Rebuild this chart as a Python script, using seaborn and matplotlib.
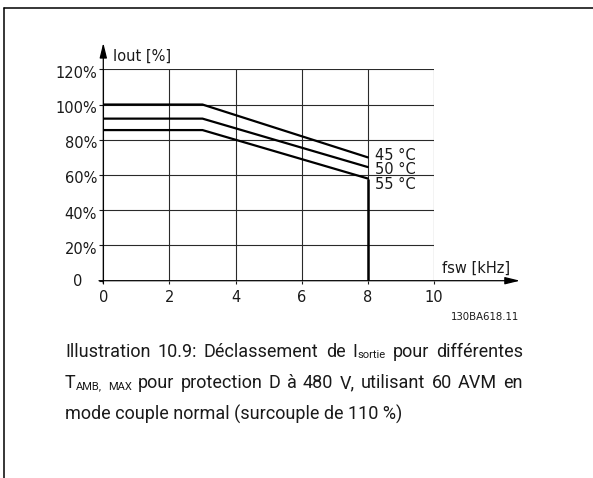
import re

import matplotlib
matplotlib.use("Agg")
import matplotlib.pyplot as plt
import matplotlib.transforms as mtransforms
from matplotlib.lines import Line2D
import numpy as np
import pandas as pd
import seaborn as sns

# Output current derating vs switching frequency, per ambient temperature
freq_khz = [0, 3, 8]
iout_45 = [100, 100, 70]
iout_50 = [92, 92, 64.5]
iout_55 = [85.5, 85.5, 58]
temp_labels = ["45 °C", "50 °C", "55 °C"]
f_max_khz = 8

x_ticks = [0, 2, 4, 6, 8, 10]
x_tick_labels = ["0", "2", "4", "6", "8", "10"]
y_ticks = [0, 20, 40, 60, 80, 100, 120]
y_tick_labels = ["0", "20%", "40%", "60%", "80%", "100%", "120%"]

y_axis_label = "Iout [%]"
x_axis_label = "fsw [kHz]"
drawing_ref = "130BA618.11"

# "_{...}" marks reduced-size (subscript) text
caption_lines = [
    "Illustration 10.9: Déclassement de I_{sortie} pour différentes",
    "T_{AMB,} _{MAX} pour protection D à 480 V, utilisant 60 AVM en",
    "mode couple normal (surcouple de 110 %)",
]

W, H = 593, 478
DPI = 100
INK = "#1a1a1a"
GRID = "#2a2a2a"
CHART_FS = 10.5

sns.set_theme(style="white")
plt.rcParams["font.family"] = ["DejaVu Sans"]

fig = plt.figure(figsize=(W / DPI, H / DPI), dpi=DPI)
fig.patch.set_facecolor("white")


def fx(px):
    return px / W


def fy(py):
    return 1 - py / H


# plotting area spans 0..10 kHz and 0..120 %
ax = fig.add_axes([fx(103.3), fy(280.7), fx(434.0) - fx(103.3), fy(69.3) - fy(280.7)])
ax.set_xlim(x_ticks[0], x_ticks[-1])
ax.set_ylim(y_ticks[0], y_ticks[-1])
ax.set_facecolor("none")
for s in ax.spines.values():
    s.set_visible(False)

# grid
ax.vlines(x_ticks, y_ticks[0], y_ticks[-1], color=GRID, lw=0.8, zorder=1)
ax.hlines(y_ticks[1:], x_ticks[0], x_ticks[-1], color=GRID, lw=0.8, zorder=1)

# derating curves
df = pd.DataFrame({
    "fsw": freq_khz * 3,
    "iout": iout_45 + iout_50 + iout_55,
    "temp": np.repeat(temp_labels, len(freq_khz)),
})
sns.lineplot(data=df, x="fsw", y="iout", hue="temp", hue_order=temp_labels,
             palette=["black"] * 3, linewidth=1.6, legend=False, sort=False,
             estimator=None, ax=ax, zorder=3)
ax.vlines(f_max_khz, 0, iout_55[-1], color="black", lw=1.8, zorder=3)
ax.set_xlabel("")
ax.set_ylabel("")

# axis arrows
arrow_kw = dict(arrowstyle="-|>,head_length=0.9,head_width=0.22", color="black",
                lw=0.9, shrinkA=0, shrinkB=0, mutation_scale=10)
ax.annotate("", xy=(12.6, 0), xytext=(-0.13, 0), arrowprops=arrow_kw,
            annotation_clip=False, zorder=4)
ax.annotate("", xy=(0, 135), xytext=(0, -1.5), arrowprops=arrow_kw,
            annotation_clip=False, zorder=4)

# ticks
ax.set_xticks(x_ticks, x_tick_labels)
ax.set_yticks(y_ticks, [""] * len(y_ticks))
ax.tick_params(axis="x", bottom=True, length=2.2, width=0.8, direction="out",
               pad=4.2, labelsize=CHART_FS, colors=INK, labelcolor=INK)
ax.tick_params(axis="y", left=True, length=2.9, width=0.8, direction="out",
               colors=INK)
for v, lab in zip(y_ticks, y_tick_labels):
    dx = -20.6 if lab == "0" else -6.3
    dy = -5.3 if v == 0 else -8.3
    tr = mtransforms.offset_copy(ax.transData, fig, x=dx, y=dy, units="dots")
    ax.text(0, v, lab, transform=tr, ha="right", va="baseline",
            fontsize=CHART_FS, color=INK, clip_on=False)

# end-of-curve temperature labels
label_drop = [2.3, 6.6, 10.2]
for lab, series, drop in zip(temp_labels, [iout_45, iout_50, iout_55], label_drop):
    tr = mtransforms.offset_copy(ax.transData, fig, x=6.7, y=-drop, units="dots")
    ax.text(freq_khz[-1], series[-1], lab, transform=tr, ha="left", va="baseline",
            fontsize=CHART_FS, color=INK, clip_on=False)

fig.text(fx(113.3), fy(60.5), y_axis_label, ha="left", va="baseline",
         fontsize=CHART_FS, color=INK)
fig.text(fx(441.7), fy(273.2), x_axis_label, ha="left", va="baseline",
         fontsize=CHART_FS, color=INK)
fig.text(fx(485), fy(316.7), drawing_ref, ha="center", va="center",
         fontsize=7.3, color=INK)

# page frame
fig.add_artist(Line2D([fx(4), 1], [fy(8), fy(8)], transform=fig.transFigure,
                      color="black", lw=1.1))
fig.add_artist(Line2D([fx(4), fx(4)], [fy(8), 0], transform=fig.transFigure,
                      color="black", lw=1.1))

# justified caption
CAP_FONT = ["Roboto", "DejaVu Sans"]
SUB_RATIO = 0.62
SUB_DROP = 1.5
cap_left, cap_right = 65.0, 522.7
cap_baselines = [356.8, 388.0, 419.5]
last_line_width = 337.0

renderer = fig.canvas.get_renderer()


def parse_word(word):
    segs = []
    for m in re.finditer(r"_\{([^}]*)\}|([^_]+)", word):
        if m.group(1) is not None:
            segs.append((m.group(1), True))
        else:
            segs.append((m.group(2), False))
    return segs


def text_width(s, size):
    t = fig.text(0, 0, s, fontsize=size, family=CAP_FONT)
    w = t.get_window_extent(renderer).width
    t.remove()
    return w


def seg_width(seg, size):
    s, small = seg
    return text_width(s, size * SUB_RATIO if small else size)


def word_width(word, size):
    return sum(seg_width(seg, size) for seg in parse_word(word))


base = 13.0
cap_fs = base * last_line_width / text_width(caption_lines[-1], base)

for i, (line, base_y) in enumerate(zip(caption_lines, cap_baselines)):
    if i == len(caption_lines) - 1:
        # last line of a justified paragraph stays left-aligned
        fig.text(fx(cap_left), fy(base_y), line, fontsize=cap_fs, family=CAP_FONT,
                 ha="left", va="baseline", color=INK)
        continue
    words = line.split(" ")
    widths = [word_width(w, cap_fs) for w in words]
    gap = (cap_right - cap_left - sum(widths)) / (len(words) - 1)
    x = cap_left
    for w, ww in zip(words, widths):
        sx = x
        for seg in parse_word(w):
            s, small = seg
            size = cap_fs * SUB_RATIO if small else cap_fs
            y = base_y + (SUB_DROP if small else 0)
            fig.text(fx(sx), fy(y), s, fontsize=size, family=CAP_FONT,
                     ha="left", va="baseline", color=INK)
            sx += seg_width(seg, cap_fs)
        x += ww + gap

fig.savefig("out.png", dpi=DPI, facecolor="white")
